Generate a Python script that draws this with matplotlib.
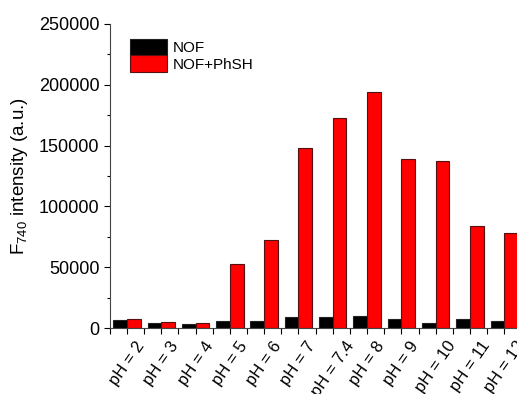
import numpy as np
import matplotlib.pyplot as plt
from matplotlib.ticker import MultipleLocator, FixedLocator

plt.rcParams['font.family'] = ['Liberation Sans', 'DejaVu Sans']
plt.rcParams['mathtext.fontset'] = 'custom'
plt.rcParams['mathtext.rm'] = 'Liberation Sans'
plt.rcParams['mathtext.default'] = 'regular'

# emission at 740 nm for the probe alone and with thiophenol
ph_labels = ['pH = 2', 'pH = 3', 'pH = 4', 'pH = 5', 'pH = 6', 'pH = 7',
             'pH = 7.4', 'pH = 8', 'pH = 9', 'pH = 10', 'pH = 11', 'pH = 12']
nof = [6300, 3900, 3300, 5500, 6000, 9300, 8800, 9600, 7700, 4400, 7100, 5500]
nof_phsh = [7400, 5000, 4400, 52600, 72400, 148000, 173000, 194000,
            139000, 137000, 84000, 78000]

x = np.arange(len(ph_labels))
w = 0.4

fig = plt.figure(figsize=(5.17, 3.94), dpi=100)
ax = fig.add_axes([0.2125, 0.1675, 0.796, 0.7716])

ax.bar(x - w/2, nof, w, color='black', edgecolor='#222222', linewidth=0.8, label='NOF')
ax.bar(x + w/2, nof_phsh, w, color='#ff0000', edgecolor='#551111', linewidth=0.8, label='NOF+PhSH')

ax.set_xlim(-0.5, len(ph_labels) - 0.5)
ax.set_ylim(0, 250000)
ax.yaxis.set_major_locator(MultipleLocator(50000))
ax.yaxis.set_minor_locator(MultipleLocator(25000))
ax.set_xticks(x)
ax.xaxis.set_minor_locator(FixedLocator(np.arange(-0.5, len(ph_labels), 1.0)))
ax.set_xticklabels(ph_labels, rotation=55, ha='center', va='top', fontsize=12)
ax.tick_params(axis='y', labelsize=13, length=4, width=0.8, direction='out')
ax.tick_params(axis='y', which='minor', length=2.5, width=0.8)
ax.tick_params(axis='x', which='both', length=4, width=0.8, direction='out')

ax.spines['top'].set_visible(False)
ax.spines['right'].set_visible(False)
ax.spines['left'].set_color('#444444')
ax.spines['bottom'].set_color('#444444')

ax.set_ylabel('F$_{740}$ intensity (a.u.)', fontsize=13.5, labelpad=6)

ax.legend(loc='upper left', bbox_to_anchor=(0.035, 0.97), frameon=False,
          fontsize=11, handlelength=2.4, handleheight=1.25, labelspacing=0.0,
          handletextpad=0.35, borderaxespad=0.0)

fig.savefig('out.png', dpi=100)
